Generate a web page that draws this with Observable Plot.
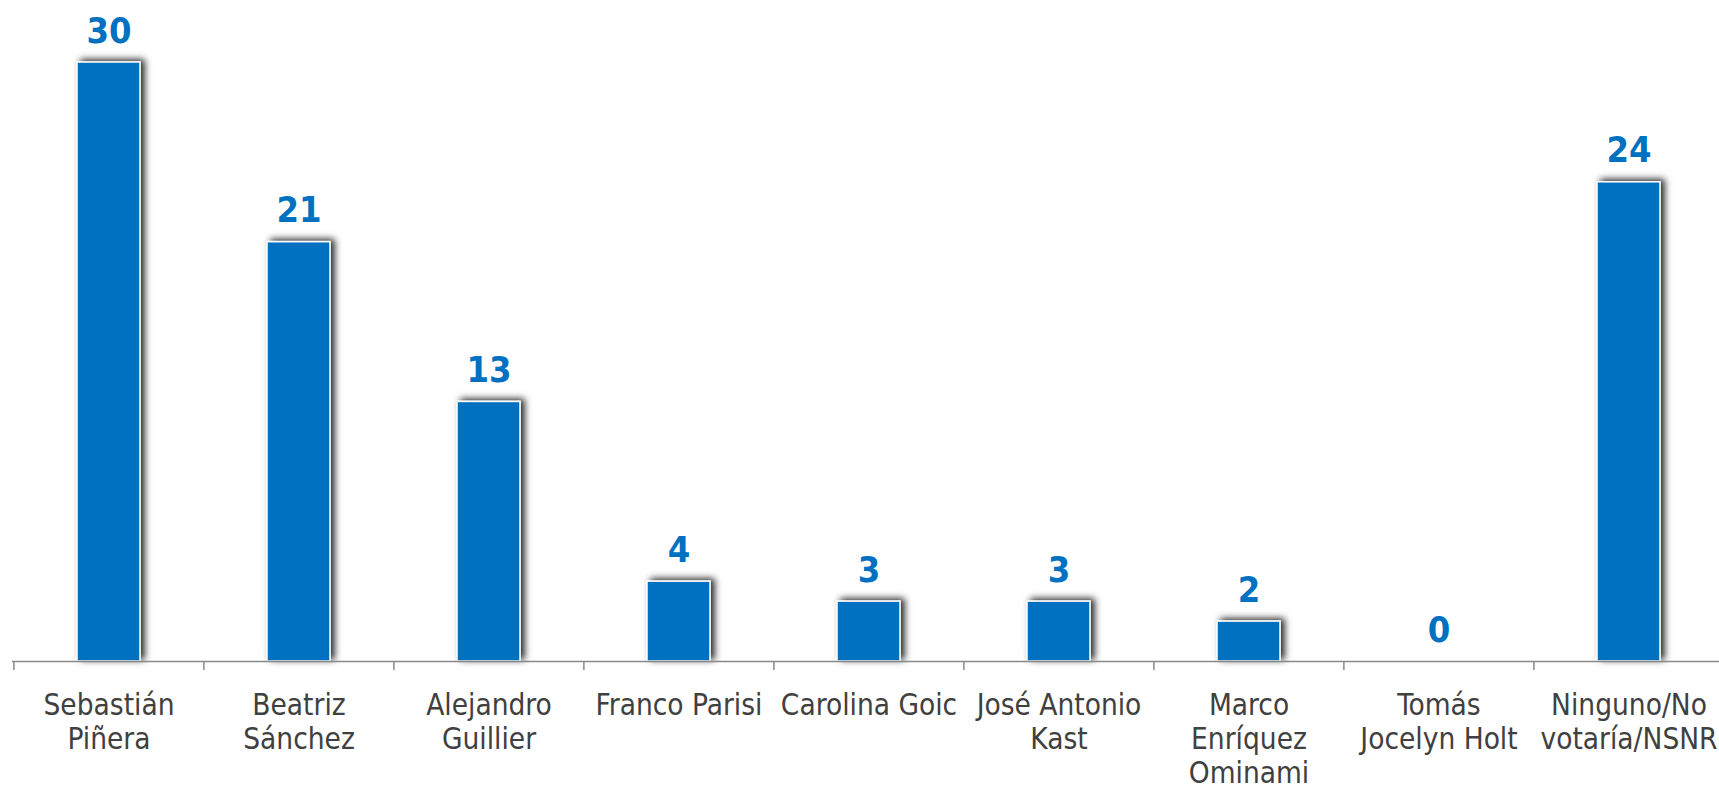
<!DOCTYPE html>
<html>
<head>
<meta charset="utf-8">
<script src="https://cdn.jsdelivr.net/npm/d3@7"></script>
<script src="https://cdn.jsdelivr.net/npm/@observablehq/plot@0.6"></script>
<style>
  html, body { margin: 0; padding: 0; background: #fff; overflow: hidden; }
  #chart svg { display: block; }
</style>
</head>
<body>
<div id="chart"></div>
<script>
const categories = ["Sebastián Piñera", "Beatriz Sánchez", "Alejandro Guillier", "Franco Parisi", "Carolina Goic", "José Antonio Kast", "Marco Enríquez Ominami", "Tomás Jocelyn Holt", "Ninguno/No votaría/NSNR"];
const tickLabels = ["Sebastián\nPiñera", "Beatriz\nSánchez", "Alejandro\nGuillier", "Franco Parisi", "Carolina Goic", "José Antonio\nKast", "Marco\nEnríquez\nOminami", "Tomás\nJocelyn Holt", "Ninguno/No\nvotaría/NSNR"];
const values = [30, 21, 13, 4, 3, 3, 2, 0, 24];

const data = categories.map((c, i) => ({cat: c, value: values[i]}));
const labelOf = new Map(categories.map((c, i) => [c, tickLabels[i]]));

const W = 1719, H = 785;
const xRange = [12, 1724];
const step = (xRange[1] - xRange[0]) / categories.length;
const font = "'DejaVu Sans Condensed', 'DejaVu Sans', sans-serif";

const chart = Plot.plot({
  width: W,
  height: H,
  marginLeft: 12,
  marginRight: 0,
  marginTop: 62,
  marginBottom: 124,
  style: {fontFamily: font, background: "#fff", overflow: "visible"},
  x: {domain: categories, range: xRange, paddingInner: 0.67, paddingOuter: 0.335, label: null},
  y: {domain: [0, 30], axis: null},
  marks: [
    Plot.barY(data, {x: "cat", y: "value", fill: "#0070C0", stroke: "#ffffff", strokeWidth: 1.5}),
    Plot.ruleY([0], {stroke: "#898989", strokeWidth: 1.5}),
    Plot.ruleX(categories, {x: d => d, y1: d => 0, y2: d => 0, insetBottom: -9, dx: -step / 2, stroke: "#898989", strokeWidth: 1.5}),
    Plot.text(data, {x: "cat", y: "value", text: d => String(d.value), lineAnchor: "bottom", dy: -20, fill: "#0070C0", fontSize: 36, fontWeight: "bold"}),
    Plot.axisX({tickSize: 0, tickPadding: 30, tickFormat: d => labelOf.get(d), fontSize: 29.5, lineHeight: 1.14, fill: "#404040", label: null})
  ]
});

// drop shadow on bars
const ns = "http://www.w3.org/2000/svg";
const defs = document.createElementNS(ns, "defs");
defs.innerHTML = '<filter id="barShadow" x="-30%" y="-20%" width="160%" height="140%"><feDropShadow dx="4" dy="-2" stdDeviation="3.5" flood-color="#000" flood-opacity="0.85"/></filter>';
chart.insertBefore(defs, chart.firstChild);
const barG = chart.querySelector('g[aria-label="bar"]');
if (barG) barG.setAttribute("filter", "url(#barShadow)");

document.getElementById("chart").appendChild(chart);
</script>
</body>
</html>
